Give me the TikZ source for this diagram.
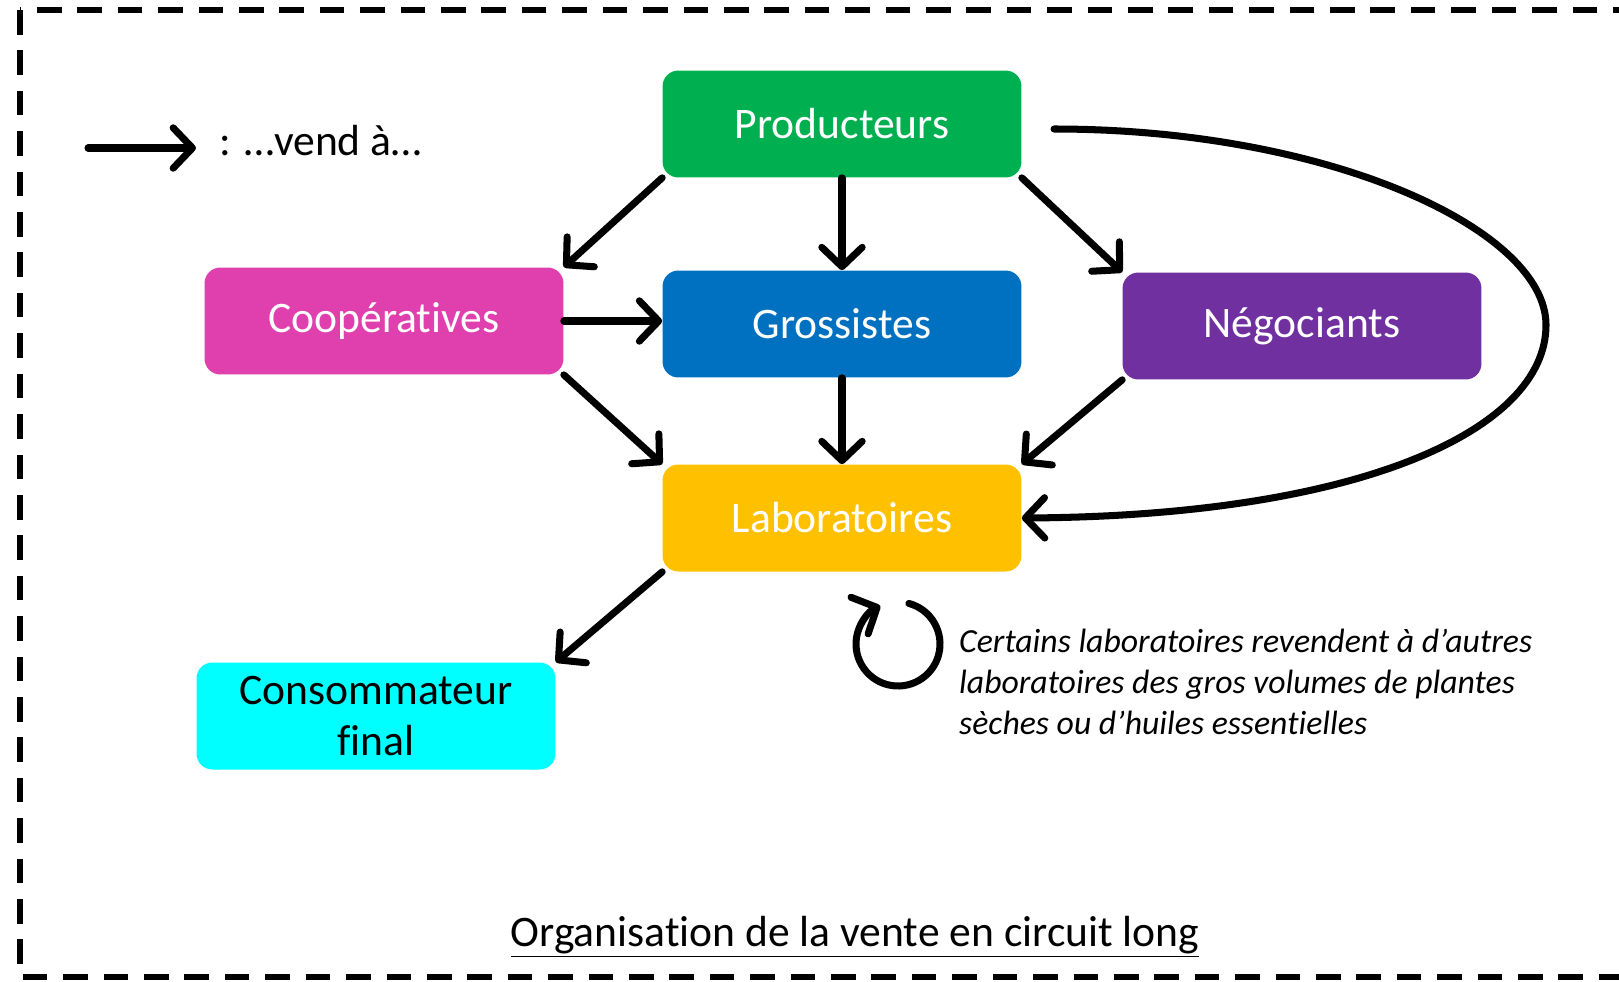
\documentclass[tikz,border=0pt]{standalone}
\usepackage{fontspec}
\setmainfont{Carlito}[RawFeature={-liga;-clig;-calt;-dlig}]
\usetikzlibrary{arrows.meta}
\definecolor{myprodcolor}{HTML}{00B050}
\definecolor{mycoopcolor}{HTML}{E03FAE}
\definecolor{mygroscolor}{HTML}{0070C0}
\definecolor{mynegocolor}{HTML}{7030A0}
\definecolor{mylabocolor}{HTML}{FFC000}
\definecolor{myconscolor}{HTML}{00FFFF}
\tikzset{
  mybox/.style={rectangle, rounded corners=9pt, minimum width=7.18cm, minimum height=2.14cm, text=white, align=center, inner sep=2pt, font=\fontsize{24.8pt}{29pt}\selectfont},
  mysell/.style={-{Straight Barb[length=11pt,width=23pt,round]}, line width=4pt, line cap=round},
  mylabel/.style={text=black, font=\fontsize{24.8pt}{29pt}\selectfont},
}

\begin{document}
\begin{tikzpicture}[x=0.02cm, y=-0.02cm]%
\useasboundingbox (0,0) rectangle (1619,981);%
\clip (0,0) rectangle (1619,981);%
\draw[line width=3.4pt, dash pattern=on 14pt off 9pt] (20,10) rectangle (1660,977);%
\node[mybox, fill=myprodcolor] (prod) at (842,124) {Producteurs};%
\node[mybox, fill=mycoopcolor] (coop) at (384,321) {Coopératives};%
\node[mybox, fill=mygroscolor] (gros) at (842,324) {Grossistes};%
\node[mybox, fill=mynegocolor] (nego) at (1302,326) {Négociants};%
\node[mybox, fill=mylabocolor] (labo) at (842,518) {Laboratoires};%
\node[mybox, fill=myconscolor, text=black] (cons) at (376,716) {Consommateur\\final};%
\draw[mysell] (prod.south west) -- (coop.north east);%
\draw[mysell] (prod.south) -- (gros.north);%
\draw[mysell] (prod.south east) -- (nego.north west);%
\draw[mysell] (coop.east) -- (coop.east -| gros.west);%
\draw[mysell] (coop.south east) -- (labo.north west);%
\draw[mysell] (gros.south) -- (labo.north);%
\draw[mysell] (nego.south west) -- (labo.north east);%
\draw[mysell] (labo.south west) -- (cons.north east);%
\coordinate (curvestart) at (1054,129);%
\draw[mysell] (curvestart) .. controls (1330,129) and (1546,230) .. (1546,325) .. controls (1546,430) and (1360,516) .. (labo.east);%
\draw[mysell] (898,644) ++(-75:42) arc[start angle=-75, end angle=245, radius=42];%
\coordinate (legstart) at (88,148);%
\coordinate (legtip) at (196,148);%
\draw[mysell] (legstart) -- (legtip);%
\node[mylabel, anchor=base west] (legtext) at (213,155) {: …vend à…};%
\node[anchor=west, align=left, font=\fontsize{19.2pt}{23.4pt}\selectfont\itshape] (labonote) at (953,682) {Certains laboratoires revendent à d’autres\\laboratoires des gros volumes de plantes\\sèches ou d’huiles essentielles};%
\node[mylabel, anchor=base] (title) at (855,946) {\underline{Organisation de la vente en circuit long}};%
\end{tikzpicture}
\end{document}
